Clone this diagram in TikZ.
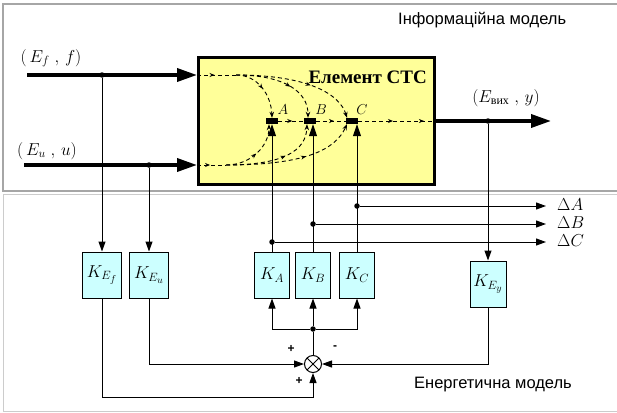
\RequirePackage{fix-cm}
\documentclass[tikz,border=0pt]{standalone}
\usepackage{fontspec}
\setmainfont{Liberation Serif}
\newfontfamily\sansf{Liberation Sans}
\usetikzlibrary{arrows.meta,decorations.markings,calc}
\definecolor{boxyellow}{RGB}{255,255,153}
\definecolor{kcyan}{RGB}{204,255,255}
\begin{document}
\begin{tikzpicture}[x=1pt,y=-1pt,
  thickarr/.style={line width=3.5pt,-{Triangle[length=20pt,width=13pt]}},
  thinln/.style={line width=1pt},
  thinarr/.style={line width=1pt,-{Triangle[length=10pt,width=7pt]}},
  vtarr/.style={line width=1pt,-{Triangle[length=12pt,width=8pt]}},
  kbox/.style={draw,line width=1pt,fill=kcyan,minimum width=35pt,minimum height=46pt,inner sep=0pt,font=\fontsize{17.28}{20}\selectfont},
  dot/.style={circle,fill,inner sep=0pt,minimum size=5.5pt},
  dsh/.style={line width=0.9pt,dash pattern=on 4pt off 3pt},
  dtip/.style={-{Stealth[length=6pt,width=4.5pt]}},
  midarr/.style={postaction={decorate,decoration={markings,mark=at position #1 with {\arrow{Stealth[length=5pt,width=4pt]}}}}},
  mlabel/.style={font=\fontsize{17.28}{20}\selectfont,inner sep=0pt},
  sign/.style={font=\sansf\bfseries\fontsize{12}{13}\selectfont,inner sep=0pt}
]
\useasboundingbox (0,0) rectangle (617,412);
% panels
\draw[gray!70,line width=1.2pt] (3,4) rectangle (618,191);
\draw[gray!40,line width=1pt] (3,194) rectangle (618,411);

% main box
\node[draw,line width=2.5pt,fill=boxyellow,minimum width=236pt,minimum height=127pt,anchor=north west,inner sep=0pt] (box) at (197,56) {};
\node[font=\bfseries\fontsize{19}{21}\selectfont,anchor=east,inner sep=0pt] (tel) at (427,77) {Елемент СТС};

% texts
\node[font=\sansf\fontsize{16.5}{18}\selectfont,anchor=west,inner sep=0pt] (tinf) at (398,20) {Інформаційна модель};
\node[font=\sansf\fontsize{16.5}{18}\selectfont,inner sep=0pt] (teng) at (493,385) {Енергетична модель};

% inputs
\coordinate (fS) at (27,75);
\coordinate (uS) at (24,165);
\node[mlabel] (lf) at (51,58) {$(\,E_f\;,\,f)$};
\node[mlabel] (lu) at (47,151) {$(\,E_u\;,\,u)$};
\draw[thickarr] (fS) -- (box.west|-fS);
\draw[thickarr] (uS) -- (box.west|-uS);
\node[dot] (dF) at (102,75) {};
\node[dot] (dU) at (149,165) {};

% A B C elements
\node[fill=black,minimum width=12pt,minimum height=6pt,inner sep=0pt] (rA) at (272,121) {};
\node[fill=black,minimum width=12pt,minimum height=6pt,inner sep=0pt] (rB) at (310,121) {};
\node[fill=black,minimum width=12pt,minimum height=6pt,inner sep=0pt] (rC) at (352,121) {};
\node[font=\fontsize{14.4}{17}\selectfont,inner sep=0pt] (lA) at (283,110) {$A$};
\node[font=\fontsize{14.4}{17}\selectfont,inner sep=0pt] (lB) at (321,110) {$B$};
\node[font=\fontsize{14.4}{17}\selectfont,inner sep=0pt] (lC) at (362,110) {$C$};

% dashed flows
\coordinate (tF) at (236,75);
\coordinate (tU) at (226,165);
\draw[dsh,midarr=0.45] (box.west|-fS) -- (tF);
\draw[dsh,midarr=0.5,dtip] (tF) .. controls (258,75) and (271,95) .. (rA.north);
\draw[dsh,midarr=0.6,dtip] (tF) .. controls (285,75) and (308,92) .. ($(rB.north)+(-2,0)$);
\draw[dsh,midarr=0.6,dtip] (tF) .. controls (310,75) and (340,95) .. ($(rC.north)+(-5,0)$);
\draw[dsh,midarr=0.45] (box.west|-uS) -- (tU);
\draw[dsh,midarr=0.5,dtip] (tU) .. controls (252,165) and (269,145) .. ($(rA.south)+(-3,0)$);
\draw[dsh,midarr=0.6,dtip] (tU) .. controls (285,165) and (306,150) .. ($(rB.south)+(-3,0)$);
\draw[dsh,midarr=0.6,dtip] (tU) .. controls (305,165) and (335,150) .. ($(rC.south)+(-5,0)$);
\draw[dsh,midarr=0.55] (rA.east) -- (rB.west);
\draw[dsh,midarr=0.6] (rB.east) -- (rC.west);
\draw[dsh,midarr=0.45,midarr=0.85] (rC.east) -- (box.east|-rC);

% output
\coordinate (oE) at (551,121);
\draw[thickarr] (box.east|-oE) -- (oE);
\node[mlabel] (lo) at (506,98) {$(E_{\mbox{\fontsize{12}{13}\selectfont вих}}\;,\,y)$};
\node[dot] (dY) at (488,121) {};

% K boxes
\node[kbox,minimum width=39pt] (KEf) at (102,275) {$K_{E_f}$};
\node[kbox,minimum width=39pt] (KEu) at (149,275) {$K_{E_u}$};
\node[kbox] (KA) at (272,275) {$K_A$};
\node[kbox] (KB) at (313,275) {$K_B$};
\node[kbox] (KC) at (357,275) {$K_C$};
\node[kbox,minimum width=36pt] (KEy) at (488,284) {$K_{E_y}$};

\draw[thinarr] (dF) -- (KEf.north);
\draw[thinarr] (dU) -- (KEu.north);
\draw[thinarr] (dY) -- (KEy.north);

% verticals to elements
\draw[vtarr] (KA.north) -- (KA.north|-rA.south);
\draw[vtarr] (KB.north) -- (KB.north|-rB.south);
\draw[vtarr] (KC.north) -- (KC.north|-rC.south);

% delta outputs
\node[dot] (dC) at (357,206) {};
\node[dot] (dB) at (313,224) {};
\node[dot] (dA) at (272,242) {};
\coordinate (eA) at (546,206);
\coordinate (eB) at (546,224);
\coordinate (eC) at (546,242);
\draw[thinarr] (dC) -- (eA);
\draw[thinarr] (dB) -- (eB);
\draw[thinarr] (dA) -- (eC);
\node[mlabel,anchor=west] (tdA) at (557,205) {$\Delta A$};
\node[mlabel,anchor=west] (tdB) at (557,223) {$\Delta B$};
\node[mlabel,anchor=west] (tdC) at (557,241) {$\Delta C$};

% summing junction
\node[draw,circle,line width=1pt,minimum size=17pt,inner sep=0pt,fill=white,
  path picture={\draw[line width=1pt] (path picture bounding box.north west) -- (path picture bounding box.south east) (path picture bounding box.north east) -- (path picture bounding box.south west);}] (sum) at (313,364) {};
\node[dot] (dS) at (313,329) {};
\draw[thinln] (sum.north) -- (dS);
\draw[thinarr] (dS) -| (KA.south);
\draw[thinarr] (dS) -| (KC.south);
\draw[thinarr] (dS) -- (KB.south);
\coordinate (bl) at (313,397);
\draw[thinarr] (KEf.south) |- (bl) -- (sum.south);
\draw[thinarr] (KEu.south) |- (sum.west);
\draw[thinarr] (KEy.south) |- (sum.east);
\node[sign] (s1) at (291,349) {+};
\node[sign] (s2) at (335,348) {-};
\node[sign] (s3) at (299,381) {+};
\end{tikzpicture}
\end{document}
